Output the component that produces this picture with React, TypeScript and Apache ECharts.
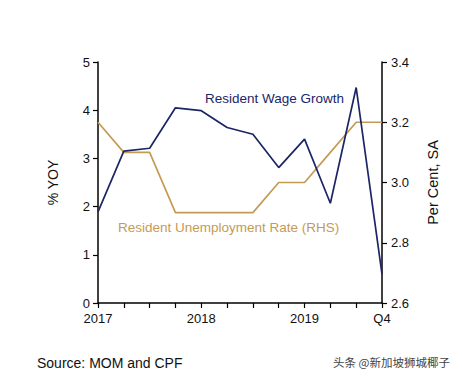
import React, { useEffect, useRef } from "react";
import * as echarts from "echarts";

const quarters = ["2017 Q1","2017 Q2","2017 Q3","2017 Q4","2018 Q1","2018 Q2","2018 Q3","2018 Q4","2019 Q1","2019 Q2","2019 Q3","2019 Q4"];
const xTickLabels = ["2017","","","","2018","","","","2019","","","Q4"];
const wageGrowth = [1.89, 3.15, 3.21, 4.05, 3.99, 3.64, 3.5, 2.81, 3.4, 2.07, 4.47, 0.6];
const unemploymentRate = [3.2, 3.1, 3.1, 2.9, 2.9, 2.9, 2.9, 3.0, 3.0, 3.1, 3.2, 3.2];

const NAVY = "#1c2565";
const TAN = "#c49b55";
const FONT = "'Liberation Sans', Arial, sans-serif";

export default function App() {
  const ref = useRef<HTMLDivElement>(null);
  useEffect(() => {
    const chart = echarts.init(ref.current!, undefined, { renderer: "svg" });
    chart.setOption({
      animation: false,
      backgroundColor: "#ffffff",
      textStyle: { fontFamily: FONT },
      grid: { left: 98, right: 80, top: 62, bottom: 78, containLabel: false },
      xAxis: {
        type: "category",
        data: quarters,
        boundaryGap: false,
        axisLine: { lineStyle: { color: "#000", width: 1.5 } },
        axisTick: { show: true, interval: 0, length: 5, lineStyle: { color: "#000", width: 1.2 } },
        axisLabel: {
          interval: 0,
          color: "#111",
          fontSize: 13,
          margin: 9,
          formatter: (_v: string, i: number) => xTickLabels[i],
        },
        splitLine: { show: false },
      },
      yAxis: [
        {
          type: "value",
          min: 0,
          max: 5,
          interval: 1,
          name: "% YOY",
          nameLocation: "middle",
          nameGap: 38,
          nameRotate: 90,
          nameTextStyle: { color: "#111", fontSize: 14 },
          axisLine: { show: true, lineStyle: { color: "#000", width: 1.5 } },
          axisTick: { show: true, length: 5, lineStyle: { color: "#000", width: 1.2 } },
          axisLabel: { color: "#111", fontSize: 13, margin: 8 },
          splitLine: { show: false },
        },
        {
          type: "value",
          min: 2.6,
          max: 3.4,
          interval: 0.2,
          position: "right",
          name: "Per Cent, SA",
          nameLocation: "middle",
          nameGap: 43,
          nameRotate: 90,
          nameTextStyle: { color: "#111", fontSize: 14.5 },
          axisLine: { show: true, lineStyle: { color: "#000", width: 1.5 } },
          axisTick: { show: true, length: 5, lineStyle: { color: "#000", width: 1.2 } },
          axisLabel: { color: "#111", fontSize: 13, margin: 9, formatter: (v: number) => v.toFixed(1) },
          splitLine: { show: false },
        },
      ],
      series: [
        {
          name: "Resident Unemployment Rate (RHS)",
          type: "line",
          yAxisIndex: 1,
          data: unemploymentRate,
          symbol: "none",
          lineStyle: { color: TAN, width: 1.7 },
          z: 2,
        },
        {
          name: "Resident Wage Growth",
          type: "line",
          yAxisIndex: 0,
          data: wageGrowth,
          symbol: "none",
          lineStyle: { color: NAVY, width: 1.7 },
          z: 3,
        },
      ],
      graphic: [
        {
          type: "text",
          left: 205,
          top: 91,
          style: { text: "Resident Wage Growth", fill: NAVY, fontSize: 13.5, fontFamily: FONT },
        },
        {
          type: "text",
          left: 118,
          top: 220,
          style: { text: "Resident Unemployment Rate (RHS)", fill: TAN, fontSize: 13.5, fontFamily: FONT },
        },
        {
          type: "text",
          left: 37,
          top: 356,
          style: { text: "Source: MOM and CPF", fill: "#111", fontSize: 14, fontFamily: FONT },
        },
        {
          type: "text",
          left: 333,
          top: 356,
          style: { text: "头条 @新加坡狮城椰子", fill: "#444", fontSize: 11.5, fontFamily: "'Noto Sans CJK SC', sans-serif" },
        },
      ],
    });
    return () => chart.dispose();
  }, []);
  return <div ref={ref} style={{ width: 462, height: 381, position: "absolute", left: 0, top: 0 }} />;
}
